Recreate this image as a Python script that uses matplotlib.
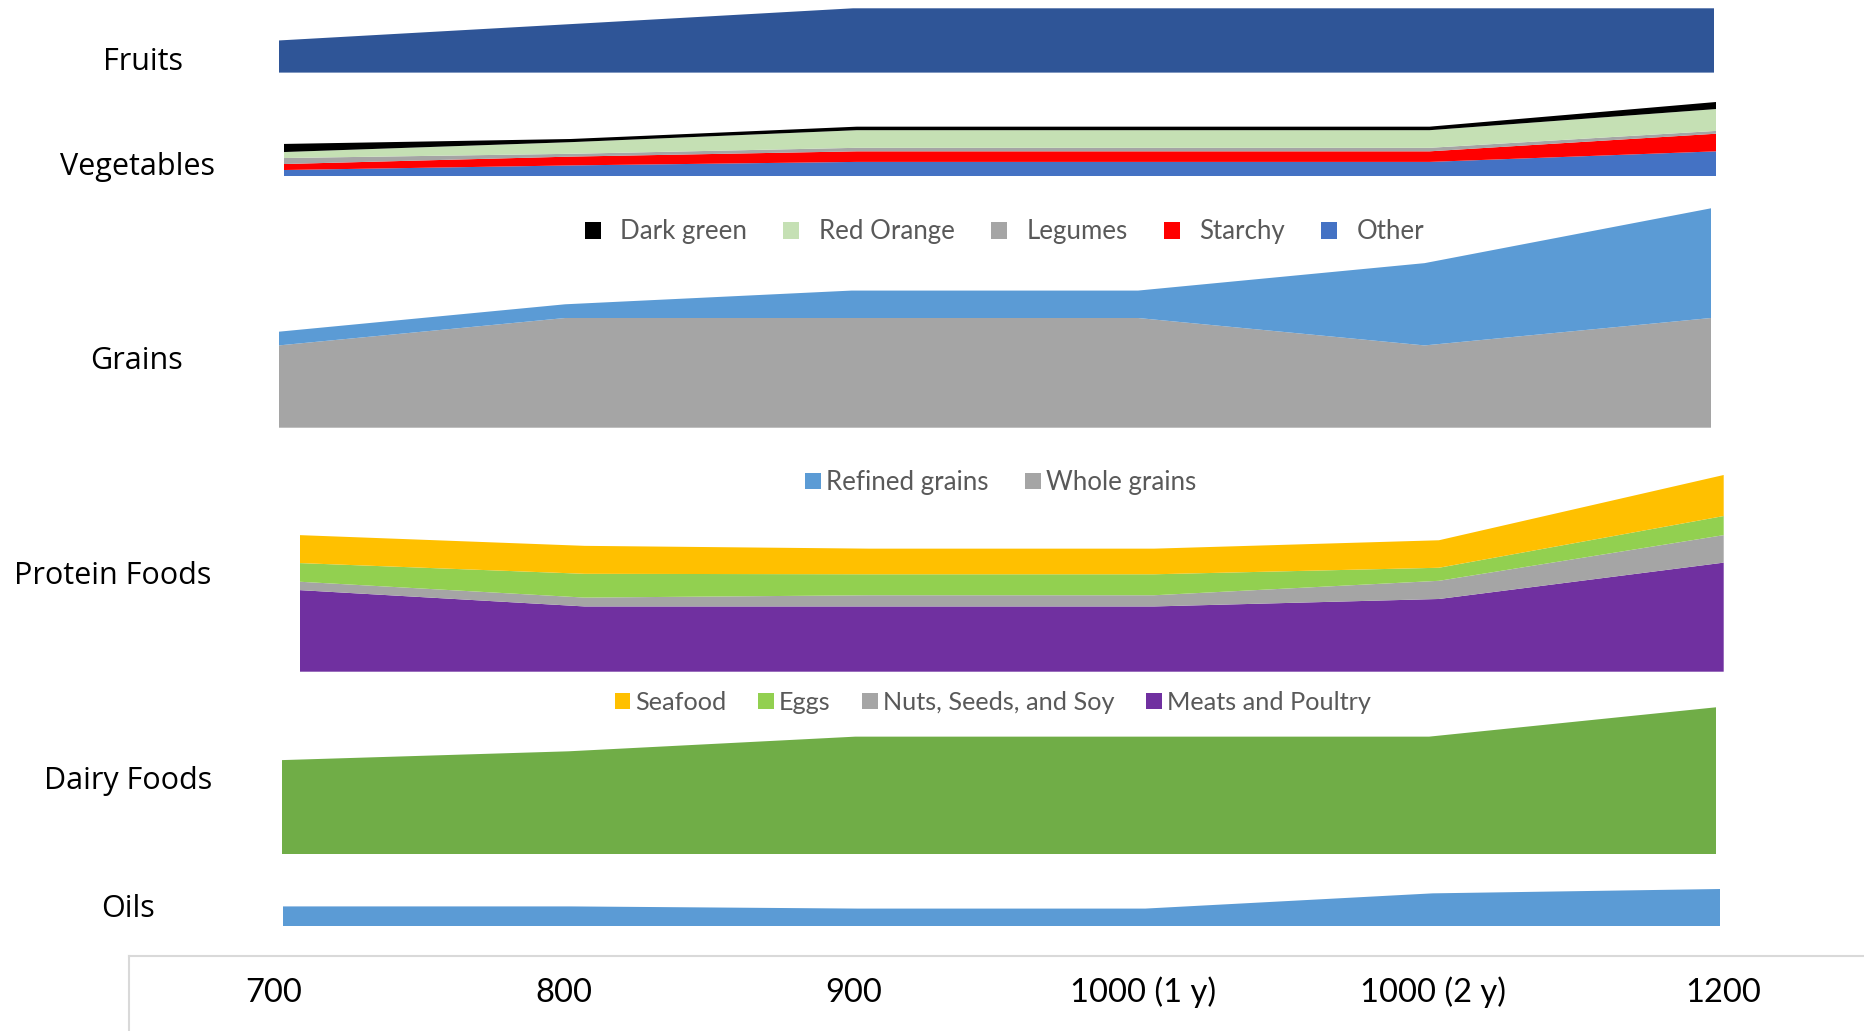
import matplotlib.pyplot as plt

# calorie levels (daily amounts, vegetable / protein subgroups per week)
levels = ['700', '800', '900', '1000 (1 y)', '1000 (2 y)', '1200']

fruits = [0.5, 0.75, 1, 1, 1, 1]

veg_other = [0.85, 1.5, 2, 2, 2, 3.5]
veg_starchy = [0.85, 1.25, 1.5, 1.5, 1.5, 2.5]
veg_legumes = [0.85, 0.4, 0.5, 0.5, 0.5, 0.4]
veg_red_orange = [0.85, 1.65, 2.5, 2.5, 2.5, 3.1]
veg_dark_green = [1.15, 0.45, 0.5, 0.5, 0.5, 1.0]

whole_grains = [1.5, 2, 2, 2, 1.5, 2]
refined_grains = [0.25, 0.25, 0.5, 0.5, 1.5, 2]

meats = [8.75, 7.0, 7.0, 7.0, 7.8, 11.7]
nuts = [0.9, 0.95, 1.2, 1.2, 1.95, 2.95]
eggs = [2.0, 2.55, 2.25, 2.25, 1.4, 2.05]
seafood = [3.0, 3.0, 2.75, 2.75, 2.95, 4.4]

dairy = [1.6, 1.75, 2, 2, 2, 2.5]

oils = [9, 9, 8, 8, 15, 17]

W, H = 1864, 1031
fig = plt.figure(figsize=(W / 100, H / 100), dpi=100)
x = list(range(len(levels)))

label_font = 'Open Sans'
small_font = 'Lato'


def band(x0, x1, base, top, ymax):
    # one strip of the chart, placed in pixel units
    ax = fig.add_axes([x0 / W, 1 - base / H, (x1 - x0) / W, (base - top) / H])
    ax.set_xlim(0, 5)
    ax.set_ylim(0, ymax)
    ax.axis('off')
    return ax


def row_label(text, cx, cy):
    fig.text(cx / W, 1 - (cy + 3.5) / H, text, ha='center', va='center',
             fontsize=22, family=label_font, color='black')


def legend(handles, labels, cx, cy, pad, size=18.6, spacing=1.4):
    fig.legend(handles, labels, loc='center', bbox_to_anchor=(cx / W, 1 - (cy + 2.4) / H),
               ncol=len(labels), frameon=False,
               prop={'family': small_font, 'size': size},
               labelcolor='#595959', handlelength=0.62, handleheight=0.62,
               handletextpad=pad, columnspacing=spacing, borderpad=0, borderaxespad=0)


# Fruits
ax = band(279, 1714, 72.6, 8.3, max(fruits))
ax.stackplot(x, fruits, colors=['#2F5597'], linewidth=0)
row_label('Fruits', 143, 58.3)

# Vegetables
veg = [veg_other, veg_starchy, veg_legumes, veg_red_orange, veg_dark_green]
veg_total = max(sum(v) for v in zip(*veg))
ax = band(284, 1716, 176, 102, veg_total)
polys = ax.stackplot(x, *veg, colors=['#4472C4', '#FF0000', '#A5A5A5', '#C5E0B4', '#000000'],
                     linewidth=0)
row_label('Vegetables', 137, 163)
legend(polys[::-1], ['Dark green', 'Red Orange', 'Legumes', 'Starchy', 'Other'],
       1004.5, 229.5, 0.75)

# Grains
grain_total = max(a + b for a, b in zip(whole_grains, refined_grains))
ax = band(278.7, 1711, 427.7, 208.3, grain_total)
polys = ax.stackplot(x, whole_grains, refined_grains, colors=['#A5A5A5', '#5B9BD5'],
                     linewidth=0)
row_label('Grains', 137, 357.8)
legend(polys[::-1], ['Refined grains', 'Whole grains'], 1000.4, 480.3, 0.2)

# Protein Foods
protein = [meats, nuts, eggs, seafood]
protein_total = max(sum(v) for v in zip(*protein))
ax = band(299.8, 1723.7, 671.7, 475, protein_total)
polys = ax.stackplot(x, *protein, colors=['#7030A0', '#A5A5A5', '#92D050', '#FFC000'],
                     linewidth=0)
row_label('Protein Foods', 112.5, 573)
legend(polys[::-1], ['Seafood', 'Eggs', 'Nuts, Seeds, and Soy', 'Meats and Poultry'],
       992.7, 700.2, 0.2, size=18.2, spacing=1.25)

# Dairy Foods
ax = band(281.6, 1716, 854, 707.3, max(dairy))
ax.stackplot(x, dairy, colors=['#70AD47'], linewidth=0)
row_label('Dairy Foods', 128.4, 777.5)

# Oils
ax = band(283, 1720, 926, 889, max(oils))
ax.stackplot(x, oils, colors=['#5B9BD5'], linewidth=0)
row_label('Oils', 128.4, 905.9)

# shared category axis along the bottom
axis_left, axis_top = 129, 956
ax = fig.add_axes([axis_left / W, 0, 1 - axis_left / W, (H - axis_top) / H])
ax.set_xlim((axis_left - 274) / 289.8, (W - 274) / 289.8)
ax.set_ylim(0, 1)
for side in ['bottom', 'right']:
    ax.spines[side].set_visible(False)
for side in ['top', 'left']:
    ax.spines[side].set_color('#D9D9D9')
    ax.spines[side].set_linewidth(1.5)
ax.set_yticks([])
ax.set_xticks(x)
ax.set_xticklabels(levels, family=small_font, fontsize=23.5, color='black')
ax.tick_params(axis='x', length=0, bottom=False, labelbottom=False,
               top=True, labeltop=True, pad=-37.5)

fig.savefig('out.png', dpi=100)
